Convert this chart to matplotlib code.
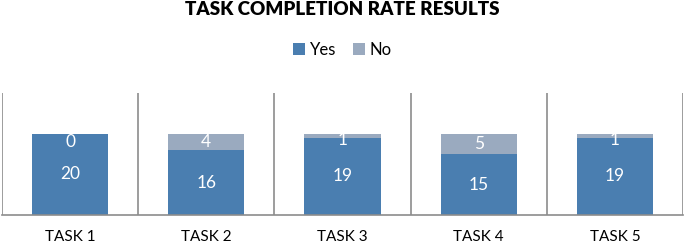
import matplotlib.pyplot as plt
import numpy as np

plt.rcParams['font.family'] = ['Lato', 'DejaVu Sans']

tasks = ["TASK 1", "TASK 2", "TASK 3", "TASK 4", "TASK 5"]
yes = [20, 16, 19, 15, 19]
no = [0, 4, 1, 5, 1]

c_yes = "#4a7eb0"
c_no = "#9aaabf"

fig = plt.figure(figsize=(6.85, 2.43), dpi=100)
ax = fig.add_axes([0.003, 0.115, 0.994, 0.502])

x = np.arange(len(tasks))
b1 = ax.bar(x, yes, width=0.56, color=c_yes, label="Yes", zorder=2)
b2 = ax.bar(x, no, width=0.56, bottom=yes, color=c_no, label="No", zorder=2)

for i in range(len(tasks)):
    ax.text(x[i], yes[i] / 2, str(yes[i]), ha="center", va="center",
            color="white", fontsize=12.5)
    # small segments: excel pushes the label down into the bar
    off = -max(0, 8 - 4 * no[i]) * 0.72
    ax.annotate(str(no[i]), (x[i], yes[i] + no[i] / 2), xytext=(0, off),
                textcoords="offset points", ha="center", va="center",
                color="white", fontsize=12.5)

ax.set_xlim(-0.5, len(tasks) - 0.5)
ax.set_ylim(0, 30)
for b in np.arange(-0.5, len(tasks), 1.0):
    ax.axvline(b, color="#8c8c8c", linewidth=1.2, zorder=1)

for s in ["top", "right", "left"]:
    ax.spines[s].set_visible(False)
ax.spines["bottom"].set_color("#8c8c8c")
ax.spines["bottom"].set_linewidth(1.2)
ax.set_yticks([])
ax.set_xticks(x)
ax.set_xticklabels(tasks, fontsize=11)
ax.tick_params(axis="x", length=0, pad=11)

fig.text(0.5, 0.96, "TASK COMPLETION RATE RESULTS", ha="center", va="center",
         fontsize=13.5, fontweight="heavy")
fig.legend(handles=[b1, b2], labels=["Yes", "No"], loc="center",
           bbox_to_anchor=(0.5, 0.795), ncol=2, frameon=False, fontsize=12,
           handlelength=0.7, handleheight=0.7, handletextpad=0.3,
           columnspacing=1.0)

plt.savefig("out.png", dpi=100)
